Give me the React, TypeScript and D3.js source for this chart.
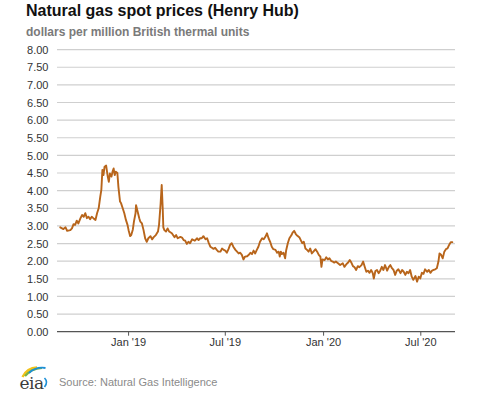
import React from "react";
import * as d3 from "d3";

const TITLE = "Natural gas spot prices (Henry Hub)";
const SUBTITLE = "dollars per million British thermal units";
const SOURCE = "Source: Natural Gas Intelligence";

const yTicks = [0, 0.5, 1, 1.5, 2, 2.5, 3, 3.5, 4, 4.5, 5, 5.5, 6, 6.5, 7, 7.5, 8];
const xTickDates = ["2019-01-01", "2019-07-01", "2020-01-01", "2020-07-01"];
const xTickLabels = ["Jan '19", "Jul '19", "Jan '20", "Jul '20"];
const xDomain = ["2018-08-20", "2020-09-03"];

const dates2018 = [
  "2018-08-26", "2018-09-01", "2018-09-05", "2018-09-08", "2018-09-14", "2018-09-17", "2018-09-20",
  "2018-09-23", "2018-09-26", "2018-09-29", "2018-10-03", "2018-10-06", "2018-10-09", "2018-10-12",
  "2018-10-15", "2018-10-18", "2018-10-21", "2018-10-24", "2018-10-27", "2018-10-31", "2018-11-03",
  "2018-11-06", "2018-11-09", "2018-11-11", "2018-11-13", "2018-11-15", "2018-11-17", "2018-11-20",
  "2018-11-23", "2018-11-25", "2018-11-27", "2018-11-30", "2018-12-02", "2018-12-04", "2018-12-06",
  "2018-12-08", "2018-12-11", "2018-12-13", "2018-12-16", "2018-12-18", "2018-12-21", "2018-12-24",
  "2018-12-27", "2018-12-30",
];
const prices2018 = [
  2.96, 2.91, 2.96, 2.86, 2.88, 2.93, 3.05,
  3.03, 3.15, 3.07, 3.22, 3.31, 3.26, 3.36,
  3.22, 3.26, 3.19, 3.26, 3.22, 3.17, 3.36,
  3.5, 3.83, 4.02, 4.59, 4.44, 4.68, 4.71,
  4.4, 4.25, 4.49, 4.4, 4.54, 4.63, 4.44,
  4.54, 4.5, 4.1, 3.69, 3.64, 3.5, 3.36,
  3.17, 3.03,
];

const dates2019 = [
  "2019-01-01", "2019-01-04", "2019-01-06", "2019-01-09", "2019-01-11", "2019-01-14", "2019-01-15",
  "2019-01-18", "2019-01-21", "2019-01-23", "2019-01-26", "2019-01-29", "2019-02-01", "2019-02-04",
  "2019-02-07", "2019-02-11", "2019-02-14", "2019-02-17", "2019-02-21", "2019-02-25", "2019-02-27",
  "2019-03-02", "2019-03-04", "2019-03-06", "2019-03-07", "2019-03-09", "2019-03-12", "2019-03-15",
  "2019-03-18", "2019-03-23", "2019-03-28", "2019-03-31", "2019-04-03", "2019-04-08", "2019-04-11",
  "2019-04-14", "2019-04-17", "2019-04-20", "2019-04-23", "2019-04-26", "2019-04-30", "2019-05-05",
  "2019-05-09", "2019-05-12", "2019-05-15", "2019-05-18", "2019-05-21", "2019-05-25", "2019-05-28",
  "2019-05-31", "2019-06-03", "2019-06-06", "2019-06-09", "2019-06-12", "2019-06-15", "2019-06-18",
  "2019-06-22", "2019-06-25", "2019-06-28", "2019-07-01", "2019-07-04", "2019-07-07", "2019-07-10",
  "2019-07-13", "2019-07-16", "2019-07-20", "2019-07-23", "2019-07-26", "2019-07-29", "2019-08-01",
  "2019-08-04", "2019-08-07", "2019-08-11", "2019-08-14", "2019-08-17", "2019-08-20", "2019-08-23",
  "2019-08-26", "2019-08-29", "2019-09-01", "2019-09-04", "2019-09-08", "2019-09-11", "2019-09-14",
  "2019-09-17", "2019-09-20", "2019-09-23", "2019-09-26", "2019-09-29", "2019-10-03", "2019-10-06",
  "2019-10-09", "2019-10-11", "2019-10-13", "2019-10-15", "2019-10-18", "2019-10-21", "2019-10-23",
  "2019-10-26", "2019-10-29", "2019-11-02", "2019-11-04", "2019-11-07", "2019-11-10", "2019-11-13",
  "2019-11-17", "2019-11-22", "2019-11-25", "2019-11-28", "2019-12-01", "2019-12-04", "2019-12-07",
  "2019-12-10", "2019-12-13", "2019-12-17", "2019-12-20", "2019-12-23", "2019-12-26", "2019-12-28",
  "2019-12-30",
];
const prices2019 = [
  2.88, 2.71, 2.74, 2.9, 3.12, 3.36, 3.59,
  3.4, 3.22, 3.12, 3.07, 2.88, 2.65, 2.55,
  2.65, 2.71, 2.62, 2.68, 2.74, 2.84, 3.03,
  3.64, 4.16, 3.45, 2.96, 2.88, 2.84, 2.93,
  2.84, 2.79, 2.68, 2.74, 2.65, 2.69, 2.67,
  2.6, 2.58, 2.49, 2.55, 2.51, 2.62, 2.58,
  2.65, 2.6, 2.65, 2.65, 2.71, 2.62, 2.65,
  2.52, 2.41, 2.38, 2.35, 2.38, 2.32, 2.27,
  2.27, 2.36, 2.32, 2.3, 2.24, 2.34, 2.46,
  2.51, 2.41, 2.32, 2.27, 2.22, 2.24, 2.18,
  2.05, 2.13, 2.14, 2.18, 2.24, 2.2, 2.3,
  2.22, 2.32, 2.41, 2.55, 2.65, 2.62, 2.69,
  2.79, 2.65, 2.55, 2.41, 2.34, 2.32, 2.24,
  2.27, 2.13, 2.27, 2.2, 2.24, 2.08, 2.31,
  2.51, 2.65, 2.74, 2.81, 2.86, 2.77, 2.72,
  2.67, 2.51, 2.55, 2.36, 2.32, 2.27, 2.36,
  2.22, 2.27, 2.34, 2.27, 2.18, 2.13, 1.84,
  2.05,
];

const dates2020 = [
  "2020-01-03", "2020-01-06", "2020-01-09", "2020-01-12", "2020-01-15", "2020-01-18", "2020-01-21",
  "2020-01-24", "2020-01-28", "2020-02-01", "2020-02-06", "2020-02-09", "2020-02-13", "2020-02-16",
  "2020-02-19", "2020-02-22", "2020-02-25", "2020-02-28", "2020-03-02", "2020-03-05", "2020-03-08",
  "2020-03-12", "2020-03-15", "2020-03-18", "2020-03-21", "2020-03-24", "2020-03-27", "2020-03-30",
  "2020-04-02", "2020-04-04", "2020-04-07", "2020-04-10", "2020-04-13", "2020-04-16", "2020-04-19",
  "2020-04-22", "2020-04-25", "2020-04-29", "2020-05-02", "2020-05-05", "2020-05-08", "2020-05-11",
  "2020-05-14", "2020-05-17", "2020-05-20", "2020-05-24", "2020-05-27", "2020-05-30", "2020-06-02",
  "2020-06-05", "2020-06-08", "2020-06-11", "2020-06-14", "2020-06-17", "2020-06-21", "2020-06-24",
  "2020-06-27", "2020-06-30", "2020-07-03", "2020-07-06", "2020-07-09", "2020-07-13", "2020-07-16",
  "2020-07-19", "2020-07-22", "2020-07-25", "2020-07-28", "2020-07-31", "2020-08-03", "2020-08-05",
  "2020-08-08", "2020-08-11", "2020-08-14", "2020-08-17", "2020-08-20", "2020-08-23", "2020-08-26",
  "2020-08-29",
];
const prices2020 = [
  2.03, 2.11, 2.05, 2.08, 2.01, 1.99, 1.96,
  1.99, 1.94, 1.89, 1.94, 1.84, 1.92, 1.96,
  2.03, 1.96, 1.86, 1.83, 1.75, 1.86, 1.83,
  1.89, 1.99, 1.84, 1.7, 1.73, 1.67, 1.75,
  1.66, 1.51, 1.72, 1.75, 1.66, 1.73, 1.84,
  1.75, 1.89, 1.73, 1.83, 1.89, 1.8, 1.75,
  1.61, 1.73, 1.77, 1.66, 1.75, 1.7, 1.61,
  1.7, 1.66, 1.75, 1.56, 1.47, 1.58, 1.42,
  1.56, 1.51, 1.67, 1.64, 1.77, 1.7, 1.75,
  1.67, 1.73, 1.75, 1.77, 1.8, 1.99, 2.22,
  2.18, 2.08, 2.27, 2.34, 2.36, 2.46, 2.54,
  2.54,
];

const W = 477;
const H = 393;
const margin = { left: 57, right: 22, top: 49.6, bottom: 61.3 };
const FONT = "'Liberation Sans', Arial, Helvetica, sans-serif";

export default function App() {
  const parse = d3.utcParse("%Y-%m-%d");
  const allDates = [...dates2018, ...dates2019, ...dates2020];
  const allPrices = [...prices2018, ...prices2019, ...prices2020];
  const data = allDates.map((d, i) => ({ date: parse(d) as Date, value: allPrices[i] }));

  const x = d3
    .scaleUtc()
    .domain(xDomain.map((d) => parse(d) as Date))
    .range([margin.left, W - margin.right]);
  const y = d3
    .scaleLinear()
    .domain([0, 8])
    .range([H - margin.bottom, margin.top]);

  const line = d3
    .line<{ date: Date; value: number }>()
    .x((d) => x(d.date))
    .y((d) => y(d.value));

  const x0 = margin.left;
  const x1 = W - margin.right;
  const yBase = y(0);

  return (
    <svg
      width={W}
      height={H}
      style={{ position: "absolute", left: 0, top: 0, background: "#fff" }}
      fontFamily={FONT}
    >
      <rect x={0} y={0} width={W} height={H} fill="#fff" />
      <text x={26} y={16} fontSize={16} fontWeight="bold" fill="#111">
        {TITLE}
      </text>
      <text x={26} y={36} fontSize={12} fontWeight="bold" fill="#7a7a7a">
        {SUBTITLE}
      </text>

      {yTicks.map((t) => (
        <g key={t}>
          {t !== 0 && (
            <line x1={x0} x2={x1} y1={y(t)} y2={y(t)} stroke="#cfcfcf" strokeWidth={1.2} />
          )}
          <text
            x={48.5}
            y={y(t)}
            dy="0.38em"
            textAnchor="end"
            fontSize={11}
            fill="#333"
          >
            {t.toFixed(2)}
          </text>
        </g>
      ))}

      <path
        d={line(data) || ""}
        fill="none"
        stroke="#b8651b"
        strokeWidth={1.9}
        strokeLinejoin="round"
        strokeLinecap="round"
      />

      <line x1={x0} x2={x1} y1={yBase} y2={yBase} stroke="#555" strokeWidth={1.3} />
      {xTickDates.map((d, i) => {
        const xx = x(parse(d) as Date);
        return (
          <g key={d}>
            <line x1={xx} x2={xx} y1={yBase} y2={yBase + 4} stroke="#555" strokeWidth={1} />
            <text x={xx} y={346} textAnchor="middle" fontSize={11} fill="#333">
              {xTickLabels[i]}
            </text>
          </g>
        );
      })}

      {/* EIA logo */}
      <g>
        <path d="M22.5,377 Q27,368 37,367.5" fill="none" stroke="#f2c21b" strokeWidth={2.4} />
        <path d="M25,376 Q31,368.5 42,368" fill="none" stroke="#7cb342" strokeWidth={2.2} />
        <path d="M29,373 Q36,366.5 45.5,368" fill="none" stroke="#1c8fd6" strokeWidth={1.8} />
        <path d="M44.5,378 Q48.5,382 44.5,387" fill="none" stroke="#1c8fd6" strokeWidth={1.6} />
        <text
          x={19.5}
          y={388.5}
          fontSize={17}
          fontFamily="'DejaVu Serif', 'Liberation Serif', serif"
          fill="#3b3b3b"
          letterSpacing={-0.5}
        >
          eia
        </text>
      </g>
      <text x={59} y={386} fontSize={11} fill="#8a8a8a">
        {SOURCE}
      </text>
    </svg>
  );
}
